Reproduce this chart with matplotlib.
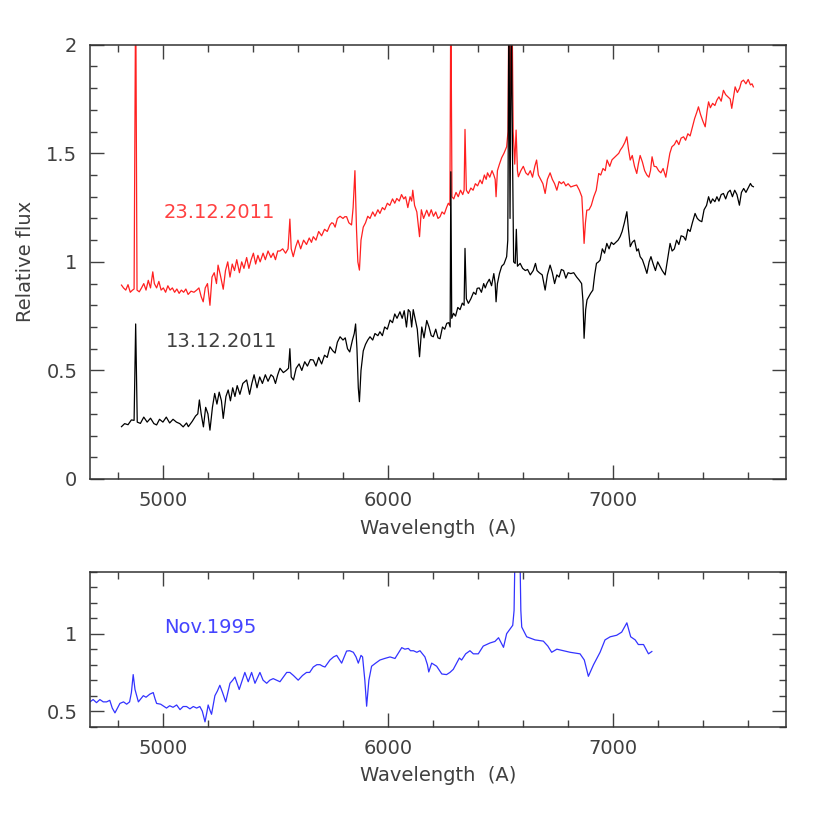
import numpy as np
import matplotlib
matplotlib.use('Agg')
import matplotlib.pyplot as plt
from matplotlib.ticker import MultipleLocator, FormatStrFormatter

# spectrum 13.12.2011 (black)
wl_13 = [4816, 4830, 4845, 4860, 4872, 4879, 4886, 4900, 4915, 4930, 4945, 4960, 4972, 4985, 5000,
         5015, 5030, 5045, 5060, 5075, 5090, 5105, 5113, 5130, 5145, 5155, 5162, 5170, 5180, 5190,
         5200, 5209, 5220, 5230, 5240, 5250, 5260, 5268, 5280, 5290, 5300, 5310, 5320, 5330, 5342,
         5355, 5372, 5385, 5395, 5405, 5418, 5430, 5442, 5455, 5467, 5480, 5490, 5500, 5510, 5520,
         5535, 5548, 5558, 5564, 5570, 5580, 5592, 5605, 5617, 5630, 5642, 5655, 5668, 5680, 5692,
         5705, 5718, 5730, 5742, 5755, 5765, 5775, 5787, 5800, 5810, 5820, 5830, 5842, 5850, 5856,
         5862, 5868, 5873, 5880, 5890, 5900, 5910, 5920, 5932, 5942, 5955, 5964, 5975, 5985, 5997,
         6009, 6020, 6030, 6040, 6053, 6063, 6072, 6082, 6090, 6098, 6105, 6112, 6120, 6130, 6140,
         6150, 6160, 6172, 6182, 6192, 6201, 6212, 6222, 6231, 6242, 6252, 6261, 6270, 6276, 6279,
         6283, 6291, 6300, 6310, 6320, 6330, 6338, 6342, 6348, 6357, 6368, 6380, 6390, 6396, 6405,
         6415, 6425, 6432, 6439, 6450, 6460, 6470, 6476, 6480, 6486, 6495, 6505, 6515, 6527, 6532,
         6537, 6542, 6548, 6553, 6558, 6565, 6570, 6575, 6587, 6598, 6610, 6620, 6632, 6645, 6655,
         6662, 6672, 6685, 6698, 6708, 6720, 6730, 6740, 6750, 6760, 6770, 6780, 6790, 6800, 6812,
         6825, 6838, 6850, 6860, 6866, 6871, 6878, 6884, 6892, 6900, 6910, 6918, 6926, 6935, 6942,
         6952, 6962, 6972, 6982, 6992, 7002, 7012, 7022, 7031, 7040, 7050, 7061, 7068, 7076, 7085,
         7095, 7105, 7112, 7120, 7130, 7140, 7150, 7160, 7168, 7178, 7188, 7198, 7208, 7218, 7231,
         7240, 7253, 7262, 7272, 7282, 7292, 7302, 7313, 7322, 7332, 7342, 7352, 7364, 7374, 7384,
         7394, 7404, 7415, 7424, 7433, 7442, 7452, 7461, 7470, 7480, 7490, 7500, 7510, 7520, 7530,
         7540, 7550, 7561, 7570, 7580, 7590, 7600, 7610, 7616, 7623]
flux_13 = [0.241, 0.255, 0.250, 0.272, 0.270, 0.714, 0.262, 0.256, 0.285, 0.262, 0.280, 0.255, 0.249, 0.275, 0.262,
           0.285, 0.258, 0.275, 0.262, 0.255, 0.240, 0.258, 0.241, 0.265, 0.290, 0.300, 0.364, 0.300, 0.240, 0.330,
           0.300, 0.225, 0.330, 0.394, 0.345, 0.400, 0.360, 0.279, 0.380, 0.410, 0.360, 0.420, 0.380, 0.430, 0.390,
           0.440, 0.456, 0.390, 0.440, 0.480, 0.420, 0.470, 0.440, 0.480, 0.450, 0.480, 0.471, 0.440, 0.480, 0.510,
           0.490, 0.500, 0.510, 0.600, 0.470, 0.456, 0.510, 0.530, 0.500, 0.540, 0.520, 0.550, 0.548, 0.520, 0.560,
           0.530, 0.570, 0.560, 0.609, 0.590, 0.580, 0.630, 0.655, 0.640, 0.650, 0.600, 0.585, 0.640, 0.670, 0.714,
           0.600, 0.420, 0.356, 0.500, 0.590, 0.620, 0.640, 0.655, 0.640, 0.670, 0.660, 0.678, 0.660, 0.700, 0.690,
           0.732, 0.720, 0.760, 0.740, 0.770, 0.740, 0.775, 0.700, 0.780, 0.770, 0.700, 0.780, 0.740, 0.690, 0.563,
           0.700, 0.650, 0.730, 0.700, 0.660, 0.655, 0.690, 0.650, 0.646, 0.700, 0.690, 0.717, 0.720, 0.700, 1.415,
           0.740, 0.763, 0.750, 0.790, 0.780, 0.810, 0.800, 1.062, 0.830, 0.809, 0.830, 0.860, 0.850, 0.878, 0.880,
           0.860, 0.900, 0.880, 0.900, 0.920, 0.890, 0.946, 0.900, 0.816, 0.900, 0.946, 0.980, 0.990, 1.024, 1.100,
           2.200, 1.200, 2.200, 1.500, 1.000, 0.993, 1.150, 0.980, 0.993, 0.970, 0.960, 0.965, 0.940, 0.960, 0.993,
           0.960, 0.950, 0.940, 0.870, 0.940, 0.985, 0.950, 0.900, 0.940, 0.930, 0.965, 0.960, 0.925, 0.950, 0.946,
           0.950, 0.930, 0.915, 0.900, 0.820, 0.648, 0.780, 0.825, 0.840, 0.855, 0.870, 0.940, 0.993, 1.000, 1.008,
           1.060, 1.040, 1.085, 1.060, 1.090, 1.080, 1.090, 1.100, 1.116, 1.140, 1.180, 1.231, 1.150, 1.070, 1.090,
           1.100, 1.050, 1.060, 1.024, 1.010, 0.980, 0.947, 1.000, 1.024, 0.990, 0.960, 1.000, 0.980, 0.960, 0.940,
           1.000, 1.085, 1.050, 1.060, 1.100, 1.080, 1.120, 1.116, 1.100, 1.150, 1.140, 1.180, 1.223, 1.200, 1.190,
           1.185, 1.240, 1.260, 1.300, 1.270, 1.290, 1.277, 1.300, 1.280, 1.310, 1.315, 1.290, 1.320, 1.330, 1.300,
           1.330, 1.310, 1.261, 1.320, 1.338, 1.320, 1.340, 1.361, 1.350, 1.346]

# spectrum 23.12.2011 (red)
wl_23 = [4816, 4825, 4835, 4845, 4855, 4865, 4872, 4879, 4885, 4895, 4905, 4915, 4925, 4935, 4945,
         4955, 4962, 4972, 4982, 4992, 5002, 5012, 5022, 5032, 5042, 5052, 5062, 5072, 5082, 5092,
         5102, 5112, 5125, 5138, 5150, 5160, 5170, 5179, 5188, 5198, 5209, 5218, 5228, 5238, 5245,
         5255, 5268, 5278, 5288, 5298, 5308, 5318, 5328, 5340, 5350, 5360, 5372, 5382, 5392, 5402,
         5412, 5422, 5432, 5445, 5455, 5467, 5480, 5490, 5500, 5510, 5520, 5532, 5545, 5556, 5564,
         5570, 5579, 5590, 5600, 5612, 5625, 5638, 5650, 5660, 5668, 5680, 5692, 5705, 5718, 5730,
         5742, 5750, 5757, 5765, 5775, 5787, 5800, 5808, 5816, 5826, 5838, 5845, 5853, 5860, 5866,
         5873, 5880, 5890, 5900, 5910, 5920, 5932, 5942, 5955, 5964, 5975, 5985, 5997, 6008, 6020,
         6030, 6039, 6050, 6060, 6070, 6078, 6088, 6098, 6105, 6110, 6118, 6128, 6140, 6148, 6158,
         6172, 6182, 6192, 6202, 6212, 6222, 6231, 6240, 6250, 6260, 6268, 6275, 6279, 6284, 6292,
         6302, 6312, 6322, 6332, 6338, 6342, 6348, 6357, 6368, 6378, 6388, 6398, 6409, 6418, 6428,
         6436, 6442, 6452, 6462, 6470, 6476, 6480, 6486, 6495, 6505, 6515, 6527, 6533, 6537, 6542,
         6550, 6556, 6563, 6569, 6575, 6579, 6590, 6601, 6612, 6622, 6632, 6642, 6652, 6660, 6668,
         6678, 6688, 6698, 6708, 6720, 6730, 6740, 6750, 6760, 6770, 6780, 6790, 6800, 6812, 6825,
         6838, 6850, 6861, 6866, 6871, 6877, 6883, 6893, 6903, 6914, 6925, 6936, 6945, 6955, 6965,
         6973, 6985, 6995, 7005, 7015, 7025, 7032, 7042, 7052, 7061, 7068, 7076, 7085, 7095, 7105,
         7112, 7120, 7130, 7140, 7150, 7159, 7166, 7173, 7182, 7192, 7202, 7212, 7222, 7234, 7244,
         7252, 7261, 7272, 7282, 7292, 7302, 7313, 7322, 7332, 7342, 7352, 7362, 7372, 7379, 7388,
         7398, 7409, 7418, 7424, 7432, 7442, 7452, 7461, 7470, 7480, 7490, 7500, 7510, 7520, 7527,
         7535, 7542, 7552, 7562, 7570, 7579, 7590, 7600, 7610, 7617, 7623]
flux_23 = [0.893, 0.880, 0.870, 0.895, 0.860, 0.870, 0.875, 2.300, 0.870, 0.862, 0.880, 0.900, 0.870, 0.915, 0.880,
           0.954, 0.900, 0.880, 0.910, 0.870, 0.880, 0.860, 0.890, 0.870, 0.880, 0.860, 0.875, 0.855, 0.870, 0.860,
           0.875, 0.850, 0.865, 0.860, 0.870, 0.880, 0.840, 0.816, 0.880, 0.900, 0.800, 0.930, 0.950, 0.900, 0.985,
           0.940, 0.874, 0.960, 1.000, 0.930, 0.990, 0.960, 1.010, 0.950, 1.000, 0.970, 1.020, 0.970, 1.010, 1.040,
           0.990, 1.030, 1.000, 1.040, 1.010, 1.050, 1.020, 1.040, 1.010, 1.050, 1.050, 1.060, 1.040, 1.060, 1.197,
           1.060, 1.024, 1.070, 1.100, 1.060, 1.100, 1.080, 1.110, 1.090, 1.116, 1.100, 1.140, 1.120, 1.150, 1.140,
           1.170, 1.180, 1.177, 1.160, 1.200, 1.210, 1.200, 1.208, 1.208, 1.180, 1.170, 1.250, 1.420, 1.150, 1.000,
           0.962, 1.100, 1.160, 1.180, 1.210, 1.200, 1.230, 1.210, 1.240, 1.223, 1.250, 1.240, 1.270, 1.260, 1.290,
           1.270, 1.292, 1.280, 1.310, 1.290, 1.300, 1.250, 1.300, 1.280, 1.330, 1.260, 1.230, 1.116, 1.240, 1.200,
           1.238, 1.210, 1.240, 1.210, 1.230, 1.200, 1.208, 1.230, 1.220, 1.250, 1.270, 1.260, 2.300, 1.300, 1.290,
           1.320, 1.300, 1.330, 1.310, 1.330, 1.610, 1.330, 1.315, 1.340, 1.330, 1.360, 1.350, 1.377, 1.360, 1.400,
           1.380, 1.410, 1.390, 1.420, 1.400, 1.380, 1.300, 1.420, 1.450, 1.480, 1.500, 1.530, 1.600, 2.300, 1.700,
           2.300, 1.600, 1.450, 1.607, 1.420, 1.392, 1.420, 1.440, 1.410, 1.400, 1.420, 1.390, 1.440, 1.469, 1.400,
           1.380, 1.360, 1.315, 1.380, 1.410, 1.380, 1.360, 1.330, 1.370, 1.360, 1.369, 1.350, 1.360, 1.345, 1.350,
           1.354, 1.330, 1.300, 1.200, 1.085, 1.180, 1.238, 1.240, 1.260, 1.300, 1.330, 1.407, 1.400, 1.430, 1.420,
           1.469, 1.440, 1.470, 1.480, 1.490, 1.500, 1.515, 1.530, 1.550, 1.576, 1.520, 1.469, 1.490, 1.440, 1.407,
           1.450, 1.490, 1.460, 1.420, 1.400, 1.390, 1.420, 1.484, 1.440, 1.438, 1.420, 1.410, 1.430, 1.390, 1.450,
           1.500, 1.530, 1.540, 1.560, 1.540, 1.570, 1.576, 1.560, 1.590, 1.580, 1.620, 1.660, 1.690, 1.714, 1.680,
           1.650, 1.622, 1.700, 1.737, 1.710, 1.730, 1.720, 1.745, 1.760, 1.740, 1.790, 1.770, 1.760, 1.750, 1.707,
           1.760, 1.806, 1.780, 1.800, 1.830, 1.837, 1.820, 1.840, 1.815, 1.820, 1.806]

# spectrum Nov.1995 (blue)
wl_95 = [4676, 4690, 4705, 4720, 4735, 4750, 4764, 4775, 4787, 4798, 4809, 4825, 4839, 4852, 4860,
         4868, 4876, 4891, 4902, 4913, 4925, 4942, 4957, 4965, 4972, 4990, 5016, 5030, 5045, 5061,
         5076, 5090, 5105, 5120, 5135, 5150, 5164, 5175, 5187, 5195, 5201, 5208, 5216, 5231, 5242,
         5253, 5265, 5279, 5298, 5310, 5320, 5339, 5364, 5379, 5394, 5409, 5431, 5445, 5461, 5475,
         5490, 5505, 5520, 5535, 5550, 5564, 5580, 5601, 5620, 5638, 5652, 5668, 5684, 5698, 5710,
         5720, 5742, 5758, 5772, 5794, 5816, 5830, 5846, 5858, 5868, 5880, 5887, 5897, 5905, 5915,
         5927, 5945, 5964, 5985, 6009, 6031, 6048, 6061, 6075, 6090, 6100, 6113, 6128, 6142, 6164,
         6175, 6181, 6194, 6205, 6216, 6239, 6260, 6275, 6290, 6317, 6327, 6345, 6364, 6379, 6401,
         6423, 6453, 6475, 6491, 6513, 6527, 6554, 6560, 6567, 6575, 6583, 6590, 6594, 6616, 6653,
         6690, 6710, 6727, 6750, 6779, 6809, 6853, 6872, 6890, 6913, 6942, 6964, 6987, 7016, 7038,
         7061, 7078, 7098, 7112, 7135, 7157, 7172]
flux_95 = [0.560, 0.575, 0.555, 0.575, 0.560, 0.560, 0.570, 0.520, 0.489, 0.520, 0.550, 0.560, 0.545, 0.560, 0.620,
           0.736, 0.640, 0.560, 0.580, 0.600, 0.590, 0.610, 0.620, 0.580, 0.550, 0.545, 0.520, 0.535, 0.525, 0.540,
           0.510, 0.530, 0.530, 0.515, 0.530, 0.520, 0.530, 0.500, 0.431, 0.490, 0.540, 0.510, 0.480, 0.600, 0.630,
           0.667, 0.620, 0.560, 0.680, 0.700, 0.720, 0.640, 0.750, 0.690, 0.750, 0.680, 0.750, 0.700, 0.680, 0.700,
           0.710, 0.700, 0.690, 0.720, 0.750, 0.750, 0.730, 0.700, 0.730, 0.750, 0.750, 0.785, 0.800, 0.800, 0.790,
           0.785, 0.830, 0.850, 0.860, 0.810, 0.888, 0.890, 0.880, 0.850, 0.810, 0.860, 0.850, 0.700, 0.532, 0.700,
           0.790, 0.810, 0.830, 0.840, 0.850, 0.840, 0.880, 0.910, 0.900, 0.905, 0.890, 0.890, 0.880, 0.890, 0.850,
           0.800, 0.753, 0.810, 0.800, 0.790, 0.740, 0.736, 0.750, 0.770, 0.843, 0.830, 0.870, 0.890, 0.870, 0.870,
           0.920, 0.940, 0.950, 0.974, 0.912, 1.000, 1.054, 1.150, 1.800, 2.100, 1.800, 1.150, 1.043, 0.980, 0.960,
           0.952, 0.920, 0.880, 0.900, 0.890, 0.880, 0.870, 0.830, 0.725, 0.800, 0.880, 0.960, 0.980, 0.990, 1.010,
           1.070, 0.980, 0.960, 0.930, 0.930, 0.870, 0.885]

ink = '#404040'
plt.rcParams['font.family'] = ['DejaVu Sans']
plt.rcParams['font.size'] = 14
plt.rcParams['text.color'] = ink
plt.rcParams['axes.labelcolor'] = ink
plt.rcParams['xtick.color'] = ink
plt.rcParams['ytick.color'] = ink


def style_axes(ax, ymajor, yminor):
    ax.xaxis.set_major_locator(MultipleLocator(1000))
    ax.xaxis.set_minor_locator(MultipleLocator(200))
    ax.yaxis.set_major_locator(MultipleLocator(ymajor))
    ax.yaxis.set_minor_locator(MultipleLocator(yminor))
    ax.yaxis.set_major_formatter(FormatStrFormatter('%g'))
    ax.tick_params(which='both', direction='in', top=True, right=True, width=1)
    ax.tick_params(which='major', length=10, labelsize=14, pad=9)
    ax.tick_params(which='minor', length=5)
    for s in ax.spines.values():
        s.set_color('#333333')
        s.set_linewidth(1.1)


fig = plt.figure(figsize=(8.3, 8.3), dpi=100)
ax1 = fig.add_axes([0.1084, 0.4229, 0.8386, 0.5232])
ax2 = fig.add_axes([0.1084, 0.1245, 0.8386, 0.1867])

ax1.plot(wl_23, flux_23, color='#ff2020', lw=0.9)
ax1.plot(wl_13, flux_13, color='black', lw=0.9)
ax1.set_xlim(4676, 7768)
ax1.set_ylim(0, 2)
style_axes(ax1, 0.5, 0.1)
ax1.set_xlabel('Wavelength  (A)', labelpad=6)
ax1.set_ylabel('Relative flux', labelpad=8)
ax1.text(5004, 1.229, '23.12.2011', color='#ff4040', fontsize=14, va='center')
ax1.text(5014, 0.632, '13.12.2011', color=ink, fontsize=14, va='center')

ax2.plot(wl_95, flux_95, color='#3333ff', lw=0.9)
ax2.set_xlim(4676, 7768)
ax2.set_ylim(0.4, 1.4)
style_axes(ax2, 0.5, 0.1)
ax2.set_xlabel('Wavelength  (A)', labelpad=6)
ax2.text(5004, 1.042, 'Nov.1995', color='#4444ff', fontsize=14, va='center')

fig.savefig('out.png', dpi=100)
